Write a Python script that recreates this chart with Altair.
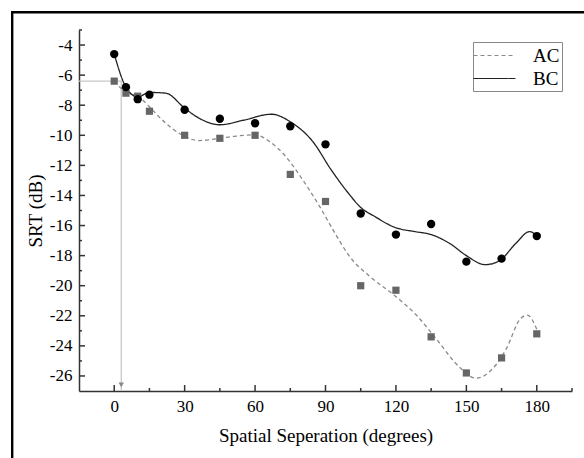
import altair as alt
import pandas as pd

# measured points
angles = [0, 5, 10, 15, 30, 45, 60, 75, 90, 105, 120, 135, 150, 165, 180]
bc_pts = [-4.6, -6.8, -7.6, -7.3, -8.3, -8.9, -9.2, -9.4, -10.6, -15.2, -16.6, -15.9, -18.4, -18.2, -16.7]
ac_pts = [-6.4, -7.2, -7.4, -8.4, -10.0, -10.2, -10.0, -12.6, -14.4, -20.0, -20.3, -23.4, -25.8, -24.8, -23.2]

# fitted curves
bc_curve_x = [0, 5, 10, 15, 22, 30, 36, 45, 55, 67, 75, 85, 92, 100, 105, 111, 120, 128, 135, 143, 150, 158, 164, 171, 177, 180]
bc_curve_y = [-4.6, -6.8, -7.45, -7.15, -7.2, -8.2, -8.85, -9.3, -9.0, -8.6, -9.1, -10.5, -12.2, -13.9, -14.8, -15.4, -16.15, -16.4, -16.6, -17.2, -18.0, -18.6, -18.35, -17.2, -16.4, -16.7]
ac_curve_x = [0, 5, 10, 15, 18, 22, 28, 36, 45, 52, 60, 66, 73, 80, 87, 94, 100, 109, 119, 129, 137, 147, 154, 161, 167, 173, 176, 180]
ac_curve_y = [-6.4, -7.15, -7.4, -8.1, -8.6, -9.2, -9.9, -10.35, -10.2, -10.05, -9.97, -10.4, -11.4, -12.9, -14.6, -16.5, -18.0, -19.4, -20.6, -22.0, -23.5, -25.4, -26.15, -25.55, -24.2, -22.2, -21.95, -22.9]

# guide arrow
guide_x = [-15, 3, 3]
guide_y = [-6.4, -6.4, -27]

x_major = [0, 30, 60, 90, 120, 150, 180]
x_minor = [15, 45, 75, 105, 135, 165, 195]
y_major = [-4, -6, -8, -10, -12, -14, -16, -18, -20, -22, -24, -26]
y_minor = [-3, -5, -7, -9, -11, -13, -15, -17, -19, -21, -23, -25]

W, H = 493, 361
FONT = "Liberation Serif"

xs = alt.Scale(domain=[-15, 195], nice=False, zero=False)
ys = alt.Scale(domain=[-27, -3], nice=False, zero=False)

curves = pd.DataFrame(
    [{"x": a, "y": b, "s": "AC", "o": i} for i, (a, b) in enumerate(zip(ac_curve_x, ac_curve_y))]
    + [{"x": a, "y": b, "s": "BC", "o": i} for i, (a, b) in enumerate(zip(bc_curve_x, bc_curve_y))]
)
pts_bc = pd.DataFrame({"x": angles, "y": bc_pts})
pts_ac = pd.DataFrame({"x": angles, "y": ac_pts})
guide = pd.DataFrame({"x": guide_x, "y": guide_y, "o": [0, 1, 2]})

xaxis = alt.Axis(values=x_major, title="Spatial Seperation (degrees)", ticks=False, grid=False,
                 labelPadding=7, titlePadding=12, labelOverlap=False,
                 labelFont=FONT, titleFont=FONT, labelFontSize=17, titleFontSize=19,
                 titleFontWeight="normal", labelColor="black", titleColor="black",
                 domainColor="#333333", domainWidth=1.5, labelExpr="datum.value + ''")
yaxis = alt.Axis(values=y_major, title="SRT (dB)", ticks=False, grid=False,
                 labelPadding=7, titlePadding=4, labelOverlap=False,
                 labelFont=FONT, titleFont=FONT, labelFontSize=17, titleFontSize=19,
                 titleFontWeight="normal", labelColor="black", titleColor="black",
                 domainColor="#333333", domainWidth=1.5, labelExpr="datum.value + ''")

X = alt.X("x:Q", scale=xs, axis=xaxis)
Y = alt.Y("y:Q", scale=ys, axis=yaxis)

guide_line = alt.Chart(guide).mark_line(color="#c8c8c8", strokeWidth=1.3).encode(
    x=X, y=Y, order="o:Q")
arrow = alt.Chart(pd.DataFrame({"x": [3], "y": [-26.6]})).mark_point(
    shape="triangle-down", filled=True, color="#888888", size=30, opacity=1).encode(x=X, y=Y)

lines = alt.Chart(curves).mark_line(interpolate="monotone", strokeWidth=1.3).encode(
    x=X, y=Y, order="o:Q",
    color=alt.Color("s:N", scale=alt.Scale(domain=["AC", "BC"], range=["#8a8a8a", "#222222"]),
                    legend=alt.Legend(title=None, orient="none", legendX=394, legendY=12,
                                      symbolType="M-2,0H2", symbolSize=441, symbolStrokeWidth=1.2,
                                      symbolOffset=8,
                                      labelFont=FONT, labelFontSize=19, labelColor="black",
                                      strokeColor="#888888", fillColor="white", padding=2,
                                      labelOffset=27, rowPadding=1)),
    strokeDash=alt.StrokeDash("s:N", scale=alt.Scale(domain=["AC", "BC"], range=[[4, 3], [1, 0]]),
                              legend=None),
)

sq = alt.Chart(pts_ac).mark_point(shape="square", filled=True, color="#666666", size=52, opacity=1).encode(
    x=X, y=Y)
ci = alt.Chart(pts_bc).mark_point(shape="circle", filled=True, color="black", size=70, opacity=1).encode(
    x=X, y=Y)

tick_col = "#333333"
xmaj = alt.Chart(pd.DataFrame({"x": x_major})).mark_rule(color=tick_col, strokeWidth=1.5).encode(
    x=X, y=alt.value(H), y2=alt.value(H - 6))
xmin = alt.Chart(pd.DataFrame({"x": x_minor})).mark_rule(color=tick_col, strokeWidth=1.5).encode(
    x=X, y=alt.value(H), y2=alt.value(H - 3))
ymaj = alt.Chart(pd.DataFrame({"y": y_major})).mark_rule(color=tick_col, strokeWidth=1.5).encode(
    y=Y, x=alt.value(0), x2=alt.value(6))
ymin = alt.Chart(pd.DataFrame({"y": y_minor})).mark_rule(color=tick_col, strokeWidth=1.5).encode(
    y=Y, x=alt.value(0), x2=alt.value(3))

frame_l = alt.Chart(pd.DataFrame({"a": [0]})).mark_rule(color="black", strokeWidth=2.4).encode(
    x=alt.value(-66.8), y=alt.value(-19), y2=alt.value(H + 80))
frame_t = alt.Chart(pd.DataFrame({"a": [0]})).mark_rule(color="black", strokeWidth=2.4).encode(
    y=alt.value(-17.8), x=alt.value(-68), x2=alt.value(W + 40))

chart = alt.layer(
    guide_line, arrow, lines, sq, ci, xmaj, xmin, ymaj, ymin, frame_l, frame_t
).properties(
    width=W, height=H,
    autosize=alt.AutoSizeParams(type="none"),
    padding={"left": 79, "top": 30, "right": 12, "bottom": 67},
    background="white",
).configure(font=FONT).configure_view(stroke=None)

chart.save("out.html", embed_options={"renderer": "svg", "actions": False})
